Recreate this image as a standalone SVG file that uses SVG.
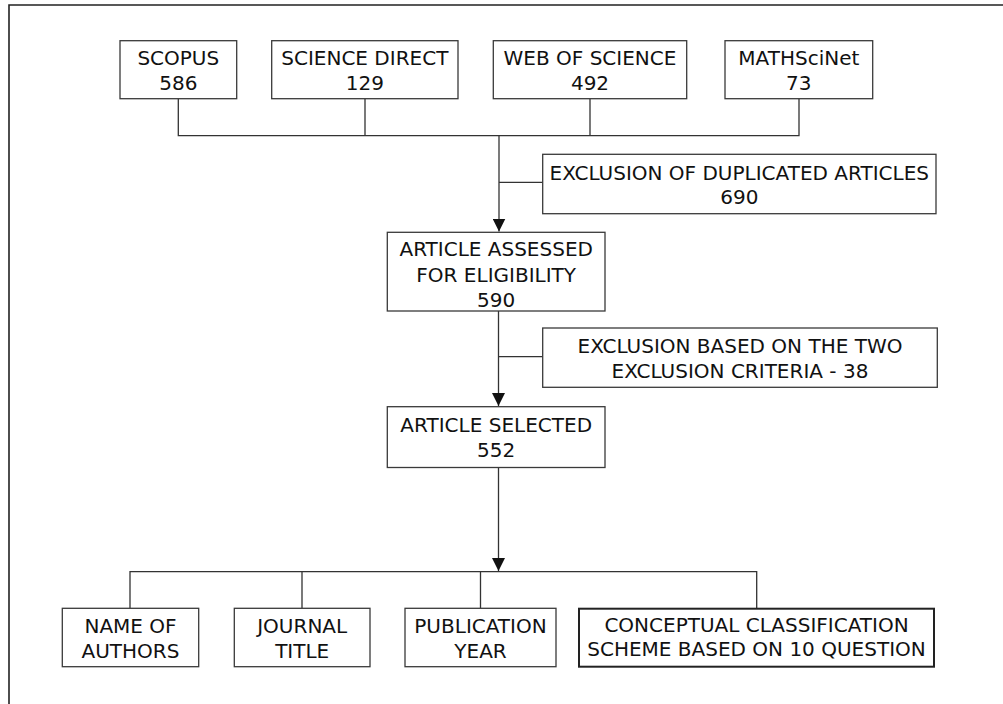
<svg xmlns="http://www.w3.org/2000/svg" width="1003" height="704" viewBox="0 0 1003 704">
<style>
.box{fill:#fff;stroke:#3a3a3a;stroke-width:1.3}
.thick{stroke:#222;stroke-width:2}
.t{font-family:"DejaVu Sans","Liberation Sans",sans-serif;font-size:20px;fill:#111;text-anchor:middle}
.ln{fill:none;stroke:#333;stroke-width:1.3}
</style>
<defs>
<marker id="arr" markerUnits="userSpaceOnUse" markerWidth="14" markerHeight="13" refX="13" refY="6.5" orient="auto">
<path d="M0,0 L13,6.5 L0,13 Z" fill="#111"/>
</marker>
</defs>
<rect width="1003" height="704" fill="#fff"/>
<path d="M9,704 V5 H1003" fill="none" stroke="#222" stroke-width="1.6"/>

<g id="connectors">
<path class="ln" d="M178.3,99 V135.7 H799 V99 M365,99 V135.7 M590,99 V135.7"/>
<path class="ln" d="M499,135.7 V231.5" marker-end="url(#arr)"/>
<path class="ln" d="M499,182.3 H542.7"/>
<path class="ln" d="M498.5,311 V406" marker-end="url(#arr)"/>
<path class="ln" d="M498.5,356.7 H542.7"/>
<path class="ln" d="M498.5,467.5 V571" marker-end="url(#arr)"/>
<path class="ln" d="M130,608.3 V571.7 H756.7 V608.7 M302,571.7 V608.3 M480.5,571.7 V608.3"/>
</g>

<g id="scopus">
<rect class="box" x="120" y="40.7" width="116.7" height="58"/>
<text class="t" x="178.3" y="65">SCOPUS</text>
<text class="t" x="178.3" y="90">586</text>
</g>
<g id="sciencedirect">
<rect class="box" x="271.7" y="40.7" width="186.3" height="58"/>
<text class="t" x="364.8" y="65">SCIENCE DIRECT</text>
<text class="t" x="364.8" y="90">129</text>
</g>
<g id="webofscience">
<rect class="box" x="493.3" y="40.7" width="193.4" height="58"/>
<text class="t" x="590" y="65">WEB OF SCIENCE</text>
<text class="t" x="590" y="90">492</text>
</g>
<g id="mathscinet">
<rect class="box" x="725" y="40.7" width="147.7" height="58"/>
<text class="t" x="798.8" y="65">MATHSciNet</text>
<text class="t" x="798.8" y="90">73</text>
</g>
<g id="exclusion-duplicated">
<rect class="box" x="542.7" y="154.3" width="393.3" height="59.4"/>
<text class="t" x="739.3" y="180">EXCLUSION OF DUPLICATED ARTICLES</text>
<text class="t" x="739.3" y="203.5">690</text>
</g>
<g id="assessed">
<rect class="box" x="387.3" y="232.3" width="217.7" height="78.7"/>
<text class="t" x="496.2" y="256.3">ARTICLE ASSESSED</text>
<text class="t" x="496.2" y="281.5">FOR ELIGIBILITY</text>
<text class="t" x="496.2" y="306.5">590</text>
</g>
<g id="exclusion-criteria">
<rect class="box" x="542.7" y="328" width="394.6" height="59.3"/>
<text class="t" x="740" y="352.7">EXCLUSION BASED ON THE TWO</text>
<text class="t" x="740" y="377.7">EXCLUSION CRITERIA - 38</text>
</g>
<g id="selected">
<rect class="box" x="387.3" y="406.7" width="217.7" height="60.8"/>
<text class="t" x="496.2" y="432.3">ARTICLE SELECTED</text>
<text class="t" x="496.2" y="457.3">552</text>
</g>
<g id="authors">
<rect class="box" x="62.3" y="608.3" width="136.4" height="58.4"/>
<text class="t" x="130.5" y="633.3">NAME OF</text>
<text class="t" x="130.5" y="657.7">AUTHORS</text>
</g>
<g id="journal">
<rect class="box" x="234.3" y="608.3" width="135.7" height="58.4"/>
<text class="t" x="302.2" y="633.3">JOURNAL</text>
<text class="t" x="302.2" y="657.7">TITLE</text>
</g>
<g id="publication">
<rect class="box" x="405" y="608.3" width="151" height="58.4"/>
<text class="t" x="480.5" y="633.3">PUBLICATION</text>
<text class="t" x="480.5" y="657.7">YEAR</text>
</g>
<g id="conceptual">
<rect class="box thick" x="579" y="608.7" width="355" height="58"/>
<text class="t" x="756.5" y="632">CONCEPTUAL CLASSIFICATION</text>
<text class="t" x="756.5" y="656.3">SCHEME BASED ON 10 QUESTION</text>
</g>
</svg>
